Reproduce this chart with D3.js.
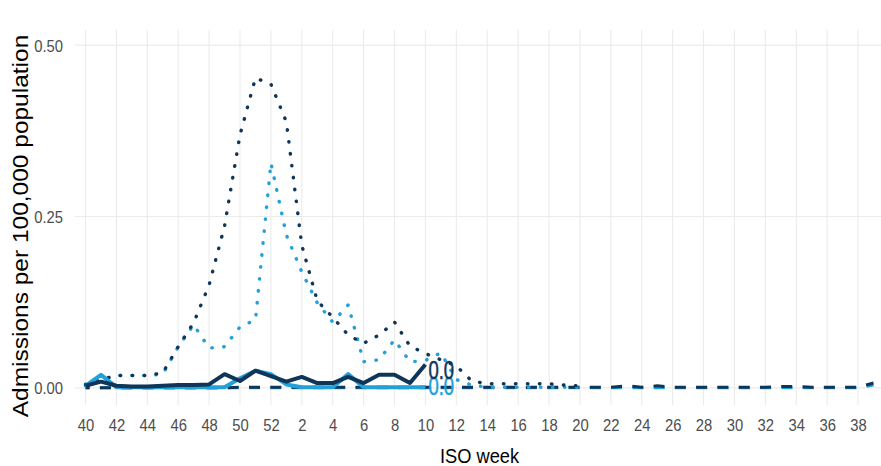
<!DOCTYPE html>
<html lang="en">
<head>
    <meta charset="utf8">
    <script type="text/javascript" src="https://d3js.org/d3.v7.min.js"></script>
    <title>Admissions per 100,000 population by ISO week</title>
    <style>
        body { margin: 0; background: #fff; }
        text { font-family: "Liberation Sans", Arial, sans-serif; }
    </style>
</head>
<body>
    <div class="chart"></div>
</body>
<script type="text/javascript">
    // ISO weeks, season runs from week 40 to week 39
    var weeks = [40,41,42,43,44,45,46,47,48,49,50,51,52,
                 1,2,3,4,5,6,7,8,9,10,11,12,13,14,15,16,17,18,19,20,
                 21,22,23,24,25,26,27,28,29,30,31,32,33,34,35,36,37,38,39];
    // tick labels on the x axis
    var tickWeeks = [40,42,44,46,48,50,52,2,4,6,8,10,12,14,16,18,20,22,24,26,28,30,32,34,36,38];
    var yTicks = [0, 0.25, 0.5];

    // previous season (dotted), up to week 20
    var darkDotted = [0.005,0.012,0.018,0.018,0.018,0.022,0.060,0.095,0.150,0.236,0.369,0.452,0.443,
                      0.388,0.208,0.127,0.103,0.077,0.065,0.077,0.096,0.061,0.050,0.041,0.032,0.010,0.006,
                      0.006,0.006,0.006,0.006,0.004,0.003];
    var lightDotted = [0.003,0.012,0.018,0.018,0.018,0.020,0.060,0.092,0.058,0.060,0.089,0.099,0.328,
                       0.223,0.169,0.124,0.096,0.121,0.038,0.041,0.070,0.038,0.040,0.051,0.012,0.004,0.001,
                       0.001,0.001,0.001,0.001,0.001,0.001];
    // older season (dashed)
    var darkDashed = [0,0,0,0,0,0,0,0,0,0,0.001,0.001,0.001,
                      0.001,0.001,0.001,0.001,0.001,0.001,0.001,0.001,0.001,0.001,0.001,0.001,0.001,0.001,
                      0.001,0.001,0.001,0.001,0.001,0.001,0.001,0.001,0.003,0.001,0.003,0.001,0.001,0.001,
                      0.001,0.001,0.001,0.001,0.002,0.002,0.001,0.001,0.001,0.001,0.007];
    var lightDashed = [0,0,0,0,0,0,0,0,0,0,0,0,0,
                       0,0,0,0,0,0,0,0,0,0,0,0,0,0,
                       0,0,0,0,0,0,0,0,0,0,0,0,0,0,
                       0,0,0,0,0,0,0,0,0,0,0.004];
    // current season (solid), up to week 10
    var darkSolid = [0.003,0.009,0.003,0.002,0.002,0.003,0.004,0.004,0.005,0.020,0.010,0.025,0.017,
                     0.009,0.016,0.007,0.007,0.016,0.007,0.019,0.019,0.007,0.034];
    var lightSolid = [0.003,0.019,0.001,0.001,0.001,0.001,0.001,0.001,0.001,0.001,0.014,0.025,0.020,
                      0.005,0.001,0.001,0.001,0.020,0.001,0.001,0.001,0.001,0.001];

    var darkCol = "#0f3658", lightCol = "#22a0da";

    // SVG
    var width = 881, height = 466;
    var svg = d3.select("body div.chart")
            .append("svg")
            .attr("width", width)
            .attr("height", height);

    // panel
    var pLeft = 75, pRight = 884, pTop = 30, pBottom = 405;
    var sx = 0.87; // text is a bit narrow in the original

    var x = d3.scalePoint()
        .domain(weeks)
        .range([pLeft, pRight])
        .padding(0.68);
    var y = d3.scaleLinear()
        .domain([-0.025, 0.522])
        .range([pBottom, pTop]);

    // grid
    var grid = svg.append("g").attr("stroke", "#ebebeb").attr("stroke-width", 1.1);
    grid.selectAll("line.v")
        .data(tickWeeks)
        .enter()
        .append("line")
        .attr("class", "v")
        .attr("x1", function(d){return x(d);})
        .attr("x2", function(d){return x(d);})
        .attr("y1", pTop)
        .attr("y2", pBottom);
    grid.selectAll("line.h")
        .data(yTicks)
        .enter()
        .append("line")
        .attr("class", "h")
        .attr("x1", pLeft)
        .attr("x2", pRight)
        .attr("y1", function(d){return y(d);})
        .attr("y2", function(d){return y(d);});

    // x axis labels
    var xAxis = svg.append("g")
        .attr("transform", "translate(0," + pBottom + ")")
        .call(d3.axisBottom(x).tickValues(tickWeeks).tickSize(0).tickPadding(0));
    xAxis.select(".domain").remove();
    xAxis.selectAll("text")
        .attr("y", 26)
        .attr("dy", 0)
        .attr("fill", "#4d4d4d")
        .attr("font-size", 17)
        .attr("transform", "scale(" + sx + ",1)")
        .attr("x", 0);

    // y axis labels
    var yAxis = svg.append("g")
        .attr("transform", "translate(63,0)")
        .call(d3.axisLeft(y).tickValues(yTicks).tickSize(0).tickPadding(0).tickFormat(d3.format(".2f")));
    yAxis.select(".domain").remove();
    yAxis.selectAll("text")
        .attr("x", 0)
        .attr("dy", "0.36em")
        .attr("fill", "#4d4d4d")
        .attr("font-size", 17)
        .attr("transform", "scale(" + sx + ",1)");

    // axis titles
    svg.append("text")
        .attr("transform", "translate(" + (pLeft + pRight) / 2 + ",463) scale(" + sx + ",1)")
        .attr("text-anchor", "middle")
        .attr("font-size", 21)
        .attr("fill", "#000")
        .text("ISO week");
    svg.append("text")
        .attr("transform", "translate(28,226) scale(" + sx + ",1) rotate(-90)")
        .attr("text-anchor", "middle")
        .attr("font-size", 24.5)
        .attr("fill", "#000")
        .text("Admissions per 100,000 population");

    // lines
    var line = d3.line()
        .x(function(d, i){return x(weeks[i]);})
        .y(function(d){return y(d);});
    var lines = svg.append("g").attr("fill", "none").attr("stroke-linejoin", "round");

    var drawLine = function(values, col, type){
        var p = lines.append("path")
            .datum(values)
            .attr("d", line)
            .attr("stroke", col);
        if (type == "dashed"){
            p.attr("stroke-width", 3).attr("stroke-dasharray", "11 10.3").attr("stroke-dashoffset", 6.9);
        } else if (type == "dotted"){
            p.attr("stroke-width", 3.4).attr("stroke-linecap", "round").attr("stroke-dasharray", "0.5 11.5");
        } else {
            p.attr("stroke-width", 4);
        }
    };
    drawLine(lightDashed, lightCol, "dashed");
    drawLine(darkDashed, darkCol, "dashed");
    drawLine(lightDotted, lightCol, "dotted");
    drawLine(darkDotted, darkCol, "dotted");
    drawLine(lightSolid, lightCol, "solid");
    drawLine(darkSolid, darkCol, "solid");

    // end labels of the current season
    var last = darkSolid.length - 1;
    var ends = [
        {"v": lightSolid[last], "col": lightCol, "off": 8},
        {"v": darkSolid[last], "col": darkCol, "off": 14}
    ];
    svg.selectAll("text.end")
        .data(ends)
        .enter()
        .append("text")
        .attr("class", "end")
        .attr("transform", function(d){
            return "translate(" + (x(weeks[last]) + 3) + "," + (y(d.v) + d.off) + ") scale(0.74,1)";
        })
        .attr("font-size", 25)
        .attr("fill", function(d){return d.col;})
        .attr("stroke", function(d){return d.col;})
        .attr("stroke-width", 0.5)
        .text(function(d){return d3.format(".1f")(d.v);});
</script>
</html>
